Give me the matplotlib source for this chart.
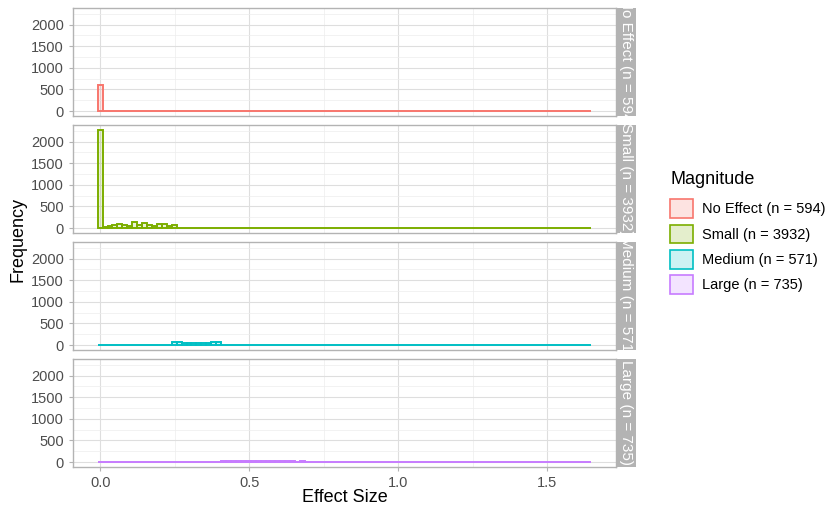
import numpy as np
import matplotlib.pyplot as plt
from matplotlib.colors import to_rgb
from matplotlib.patches import Patch

plt.rcParams['font.family'] = ['Liberation Sans', 'DejaVu Sans']

# histogram layout: 100 bins spanning the observed effect sizes
n_bins = 100
x_max = 1.64

magnitudes = ["No Effect (n = 594)", "Small (n = 3932)", "Medium (n = 571)", "Large (n = 735)"]
colors = ["#F8766D", "#7CAE00", "#00BFC4", "#C77CFF"]

# bin counts per magnitude group
no_effect_counts = [594] + [0] * 99
small_counts = ([2270, 35, 50, 60, 95, 70, 55, 140, 65, 125, 60, 55, 90, 95, 40, 65]
                + [0] * 84)
medium_counts = ([0] * 15
                 + [70, 60, 50, 45, 45, 50, 55, 50, 75, 71]
                 + [0] * 75)
large_counts = ([0] * 24
                + [12, 22, 28, 24, 20, 22, 26, 18, 20, 22, 16, 18, 20, 14, 16, 15,
                   12, 14, 13, 11, 12, 10, 11, 9, 10, 9, 8, 10, 9, 7, 8, 9,
                   8, 7, 9, 6, 7, 8, 6, 7, 6, 8, 6, 5, 7, 6, 5, 6, 7, 5,
                   6, 5, 4, 6, 5, 4, 5, 6, 4, 5, 4, 5, 3, 4, 5, 4, 3, 4,
                   4, 3, 4, 3, 4, 5, 3, 4])
all_counts = [no_effect_counts, small_counts, medium_counts, large_counts]

width = x_max / (n_bins - 1)
centers = np.arange(n_bins) * width

fig = plt.figure(figsize=(8.28, 5.15), dpi=100)
W, H = 828, 515

y_top = max(max(c) for c in all_counts)
ylim = (-0.05 * y_top, 1.05 * y_top)
x_lo, x_hi = -width / 2, x_max + width / 2
xpad = 0.05 * (x_hi - x_lo)

border = "#B3B3B3"
for i, (label, col, counts) in enumerate(zip(magnitudes, colors, all_counts)):
    top = 8 + 117 * i
    ax = fig.add_axes([73 / W, 1 - (top + 108) / H, 543 / W, 108 / H])
    ax.bar(centers, counts, width=width, color=col, alpha=0.15, linewidth=0)
    ax.bar(centers, counts, width=width, facecolor="none", edgecolor=col, linewidth=1.4)
    ax.set_xlim(x_lo - xpad, x_hi + xpad)
    ax.set_ylim(*ylim)
    ax.set_yticks([0, 500, 1000, 1500, 2000])
    ax.set_yticks([250, 750, 1250, 1750, 2250], minor=True)
    ax.set_xticks([0, 0.5, 1.0, 1.5])
    ax.set_xticks([0.25, 0.75, 1.25], minor=True)
    ax.grid(which="major", color="#DEDEDE", linewidth=0.8)
    ax.grid(which="minor", color="#EDEDED", linewidth=0.5)
    ax.set_axisbelow(True)
    for s in ax.spines.values():
        s.set_color(border)
        s.set_linewidth(1.0)
    ax.tick_params(which="both", length=3, color=border, labelsize=10.5, labelcolor="#4D4D4D")
    ax.tick_params(which="minor", length=0)
    if i < 3:
        ax.tick_params(axis="x", which="both", labelbottom=False, length=0)
    else:
        ax.set_xticklabels(["0.0", "0.5", "1.0", "1.5"])

    # facet strip on the right; long labels get clipped by the strip
    sax = fig.add_axes([617 / W, 1 - (top + 108) / H, 19 / W, 108 / H])
    sax.set_facecolor(border)
    sax.set_xticks([])
    sax.set_yticks([])
    for s in sax.spines.values():
        s.set_visible(False)
    sax.text(0.5, 0.5, label, rotation=-90, ha="center", va="center", color="white",
             fontsize=11, transform=sax.transAxes, clip_on=True)

fig.text(18 / W, 1 - 240 / H, "Frequency", rotation=90, ha="center", va="center", fontsize=13)
fig.text(345 / W, 1 - 498 / H, "Effect Size", ha="center", va="center", fontsize=13)

handles = [Patch(facecolor=(*to_rgb(c), 0.2), edgecolor=c, linewidth=1.2) for c in colors]
leg = fig.legend(handles, magnitudes, loc="upper left", bbox_to_anchor=(657 / W, 1 - 158 / H),
                 frameon=False, title="Magnitude", fontsize=10.5, title_fontsize=13,
                 handlelength=1.6, handleheight=1.6, handletextpad=0.6, labelspacing=0.45)
leg._legend_box.align = "left"
leg._legend_box.sep = 8

fig.savefig("out.png", dpi=100)
